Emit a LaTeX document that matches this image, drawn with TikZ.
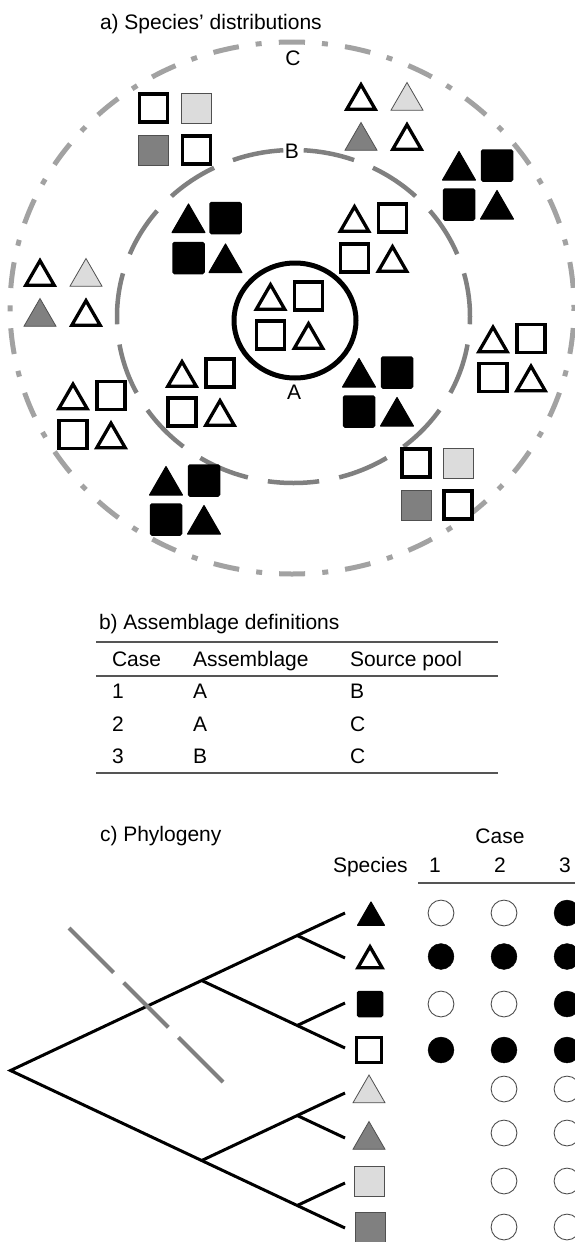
\documentclass[tikz,border=0pt]{standalone}
\usepackage{fontspec}
\setmainfont{Liberation Sans}
\usetikzlibrary{shapes.geometric}

\definecolor{ringCgray}{HTML}{A2A2A2}
\definecolor{ringBgray}{HTML}{808080}
\definecolor{slashgray}{HTML}{808080}
\definecolor{lightfill}{HTML}{DCDCDC}
\definecolor{darkfill}{HTML}{808080}
\definecolor{edgegray}{HTML}{505050}
\definecolor{rulegray}{HTML}{555555}

% four symbols in a 2x2 block: name, x, y, half-spacing x, half-spacing y, styles TL TR BL BR
\newcommand\symblock[9]{%
  \node[#6] (#1-tl) at ({#2-#4},{#3-#5}) {};
  \node[#7] (#1-tr) at ({#2+#4},{#3-#5}) {};
  \node[#8] (#1-bl) at ({#2-#4},{#3+#5}) {};
  \node[#9] (#1-br) at ({#2+#4},{#3+#5}) {};
}

\tikzset{
  lbl/.style={font=\fontsize{21}{25}\selectfont, inner sep=0pt, outer sep=0pt},
  sym/.style={inner sep=0pt, outer sep=0pt},
  tri/.style={sym, regular polygon, regular polygon sides=3, yshift=-5pt},
  otri/.style={tri, minimum size=32.7, draw=black, line width=3.3, fill=white},
  btri/.style={tri, minimum size=38.1, draw=black, line width=1, fill=black, line join=round},
  ltri/.style={tri, minimum size=37, draw=edgegray, line width=0.8, fill=lightfill},
  dtri/.style={tri, minimum size=37, draw=edgegray, line width=0.8, fill=darkfill},
  osq/.style={sym, rectangle, minimum size=28, draw=black, line width=3.3, fill=white},
  bsq/.style={sym, rectangle, minimum size=31, draw=black, line width=1.5, fill=black, rounded corners=1.5},
  lsq/.style={sym, rectangle, minimum size=30, draw=edgegray, line width=0.8, fill=lightfill},
  dsq/.style={sym, rectangle, minimum size=30, draw=edgegray, line width=0.8, fill=darkfill},
  ringA/.style={draw=black, line width=5},
  ringB/.style={draw=ringBgray, line width=4.5, dash pattern=on 51.5pt off 20.36pt, dash phase=61.68pt},
  ringC/.style={draw=ringCgray, line width=5, dash pattern=on 26pt off 17pt on 6pt off 17.23pt, dash phase=13pt},
  branch/.style={draw=black, line width=3, line join=miter},
  slash/.style={draw=slashgray, line width=4.2, dash pattern=on 63pt off 14.4pt},
  rulestyle/.style={draw=rulegray, line width=1.2},
  present/.style={sym, circle, minimum size=25.8, fill=black, draw=black, line width=0.5},
  absent/.style={sym, circle, minimum size=25.8, fill=white, draw=edgegray, line width=0.9},
}

\begin{document}
\begin{tikzpicture}[x=1pt, y=-1pt]
\useasboundingbox (0,0) rectangle (574,1242);

% ---------- a) species' distributions ----------
\node[lbl, anchor=base west] (titleA) at (100,29) {a) Species’ distributions};

\draw[ringC] (292,42) arc[start angle=-90, end angle=270, x radius=282, y radius=266];
\draw[ringB] (293.5,150) arc[start angle=-90, end angle=270, x radius=176.5, y radius=166.5];
\draw[ringA] (295,320.5) ellipse[x radius=61, y radius=57.5];

\node[lbl, anchor=base] (labC) at (293,65) {C};
\node[lbl, anchor=base, fill=white, inner xsep=1pt] (labB) at (292,158) {B};
\node[lbl, anchor=base] (labA) at (294,399) {A};

% assemblage A
\symblock{cA}{289.5}{315.5}{19}{19.5}{otri}{osq}{osq}{otri}
% inside B
\symblock{cB1}{207}{238}{18.5}{20}{btri}{bsq}{bsq}{btri}
\symblock{cB2}{373.5}{238}{19}{20}{otri}{osq}{osq}{otri}
\symblock{cB3}{201}{392.5}{19}{19.5}{otri}{osq}{osq}{otri}
\symblock{cB4}{378}{392}{19}{19.5}{btri}{bsq}{bsq}{btri}
% inside C
\symblock{cC1}{175}{129}{21.5}{21}{osq}{lsq}{dsq}{osq}
\symblock{cC2}{384}{116}{23}{20}{otri}{ltri}{dtri}{otri}
\symblock{cC3}{478}{185}{19}{19.5}{btri}{bsq}{bsq}{btri}
\symblock{cC4}{63}{292}{23}{20}{otri}{ltri}{dtri}{otri}
\symblock{cC5}{512}{358}{19}{19.5}{otri}{osq}{osq}{otri}
\symblock{cC6}{92}{415}{19}{19.5}{otri}{osq}{osq}{otri}
\symblock{cC7}{185}{500}{19}{19.5}{btri}{bsq}{bsq}{btri}
\symblock{cC8}{437}{484}{21}{21}{osq}{lsq}{dsq}{osq}

% ---------- b) assemblage definitions ----------
\node[lbl, anchor=base west] (titleB) at (99,629) {b) Assemblage definitions};
\coordinate (r1a) at (96,642);  \coordinate (r1b) at (498,642);
\coordinate (r2a) at (96,676);  \coordinate (r2b) at (498,676);
\coordinate (r3a) at (96,773);  \coordinate (r3b) at (498,773);
\draw[rulestyle] (r1a) -- (r1b);
\draw[rulestyle] (r2a) -- (r2b);
\draw[rulestyle] (r3a) -- (r3b);

\node[lbl, anchor=base west] (hCase) at (112,666) {Case};
\node[lbl, anchor=base west] (hAss)  at (193,666) {Assemblage};
\node[lbl, anchor=base west] (hPool) at (350,666) {Source pool};

\node[lbl, anchor=base west] (c1) at (112,698) {1};
\node[lbl, anchor=base west] (a1) at (193,698) {A};
\node[lbl, anchor=base west] (p1) at (350,698) {B};
\node[lbl, anchor=base west] (c2) at (112,731.5) {2};
\node[lbl, anchor=base west] (a2) at (193,731.5) {A};
\node[lbl, anchor=base west] (p2) at (350,731.5) {C};
\node[lbl, anchor=base west] (c3) at (112,763) {3};
\node[lbl, anchor=base west] (a3) at (193,763) {B};
\node[lbl, anchor=base west] (p3) at (350,763) {C};

% ---------- c) phylogeny ----------
\node[lbl, anchor=base west] (titleC) at (100,841) {c) Phylogeny};
\node[lbl, anchor=base] (caseHead) at (500,843) {Case};
\node[lbl, anchor=base west] (spHead) at (333,872) {Species};
\node[lbl, anchor=base] (k1) at (435,872) {1};
\node[lbl, anchor=base] (k2) at (500,872) {2};
\node[lbl, anchor=base] (k3) at (565,872) {3};
\coordinate (hlA) at (418,883); \coordinate (hlB) at (580,883);
\draw[rulestyle] (hlA) -- (hlB);

% tree
\coordinate (root) at (10.5,1070.5);
\coordinate (n1)  at (201.7,980.5);
\coordinate (n2)  at (201.7,1160.5);
\coordinate (n11) at (297.2,935.5);
\coordinate (n12) at (297.2,1025.5);
\coordinate (n21) at (297.2,1115.5);
\coordinate (n22) at (297.2,1205.5);
\foreach \i/\y in {1/913,2/958,3/1003,4/1048,5/1093,6/1138,7/1183,8/1228}
  \coordinate (t\i) at (345,\y);

\draw[branch] (t1) -- (root) -- (t8);
\draw[branch] (n11) -- (t2);
\draw[branch] (n1) -- (t4);
\draw[branch] (n12) -- (t3);
\draw[branch] (n2) -- (t5);
\draw[branch] (n21) -- (t6);
\draw[branch] (n22) -- (t7);

\coordinate (s1) at (69,928);
\coordinate (s2) at (223,1082);
\draw[slash] (s1) -- (s2);

% species column
\node[btri, minimum size=31.2, yshift=1pt] (sp1) at (371,913.5) {};
\node[otri, minimum size=28.1, yshift=0.7pt] (sp2) at (370,956.5) {};
\node[bsq, minimum size=25] (sp3) at (370,1004) {};
\node[osq, minimum size=24.5] (sp4) at (369,1050) {};
\node[ltri] (sp5) at (369,1088.5) {};
\node[dtri] (sp6) at (369,1135) {};
\node[lsq] (sp7) at (369,1181.5) {};
\node[dsq] (sp8) at (370,1227.5) {};

% presence in each case
\node[absent]  (m11) at (441,913) {};
\node[absent]  (m12) at (504,913) {};
\node[present] (m13) at (567,913) {};
\node[present] (m21) at (441,956.5) {};
\node[present] (m22) at (504,956.5) {};
\node[present] (m23) at (567,956.5) {};
\node[absent]  (m31) at (441,1004) {};
\node[absent]  (m32) at (504,1004) {};
\node[present] (m33) at (567,1004) {};
\node[present] (m41) at (441,1050) {};
\node[present] (m42) at (504,1050) {};
\node[present] (m43) at (567,1050) {};
\node[absent]  (m52) at (504,1089) {};
\node[absent]  (m53) at (567,1089) {};
\node[absent]  (m62) at (504,1133) {};
\node[absent]  (m63) at (567,1133) {};
\node[absent]  (m72) at (504,1181) {};
\node[absent]  (m73) at (567,1181) {};
\node[absent]  (m82) at (504,1227) {};
\node[absent]  (m83) at (567,1227) {};
\end{tikzpicture}
\end{document}
